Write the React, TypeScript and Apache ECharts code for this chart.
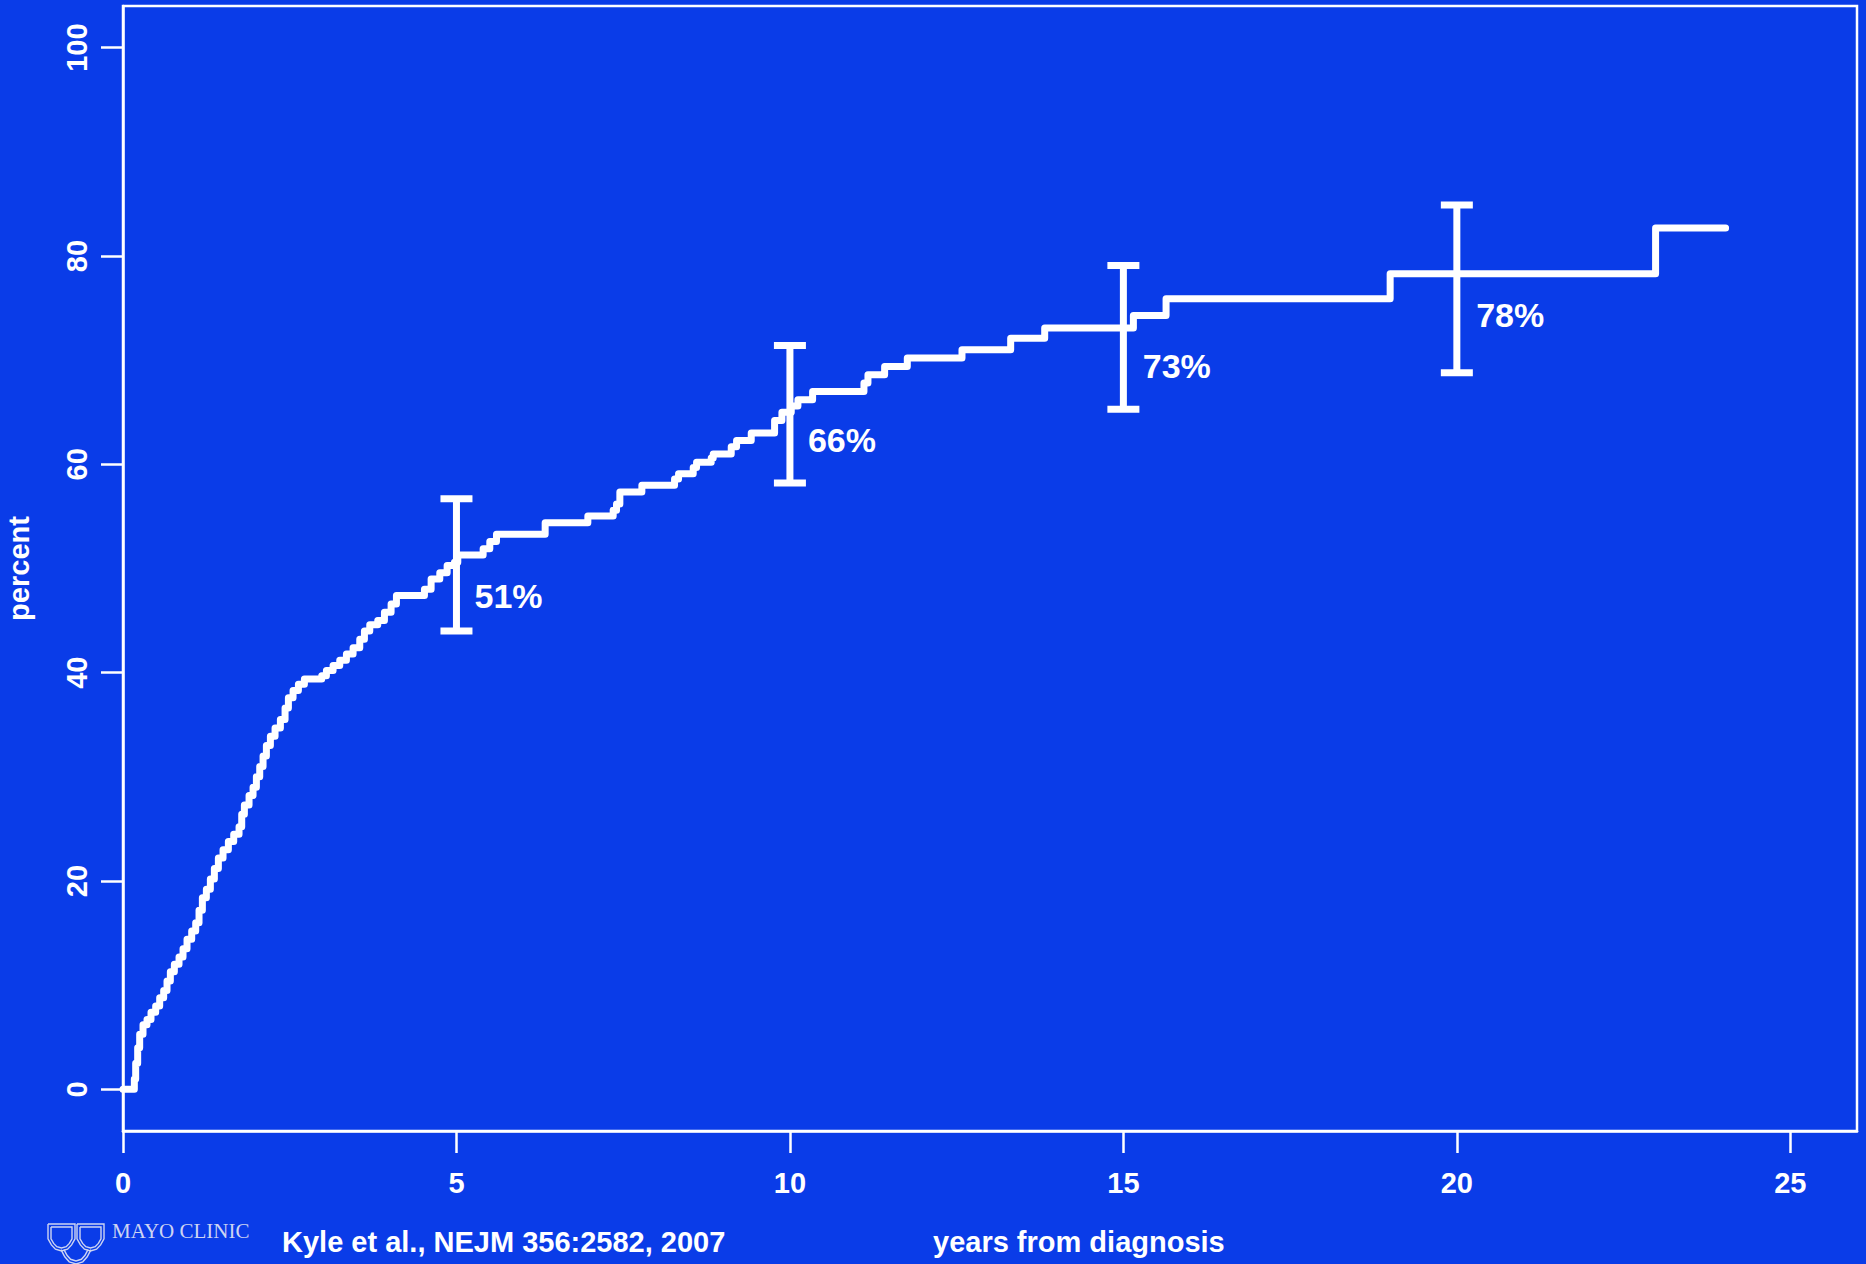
import React, { useEffect, useRef } from "react";
import * as echarts from "echarts";

// Cumulative probability of progression (percent) vs. years from diagnosis
const years = [
  0, 0.17, 0.19, 0.22, 0.25, 0.3, 0.36, 0.42, 0.49, 0.55, 0.61, 0.66, 0.71, 0.77, 0.84, 0.9, 0.96,
  1.03, 1.09, 1.14, 1.19, 1.25, 1.31, 1.37, 1.43, 1.5, 1.58, 1.66, 1.74, 1.78, 1.82, 1.89, 1.95,
  2.0, 2.05, 2.1, 2.15, 2.21, 2.28, 2.36, 2.43, 2.48, 2.55, 2.63, 2.72, 2.98, 3.05, 3.15, 3.25,
  3.35, 3.45, 3.55, 3.62, 3.7, 3.82, 3.92, 4.02, 4.1, 4.52, 4.62, 4.75, 4.86, 4.97, 5.02, 5.4,
  5.5, 5.6, 6.33, 6.97, 7.35, 7.4, 7.45, 7.78, 8.27, 8.33, 8.55, 8.6, 8.82, 8.85, 9.12, 9.2,
  9.42, 9.77, 9.88, 10.02, 10.12, 10.34, 11.11, 11.17, 11.42, 11.76, 12.58, 13.31, 13.82, 15.15,
  15.64, 19.0, 22.98, 24.03,
];
const cumulativePct = [
  0, 1.0, 2.5, 4.0, 5.3, 6.2, 6.7, 7.4, 8.0, 8.8, 9.5, 10.4, 11.3, 12.0, 12.7, 13.5, 14.4,
  15.2, 16.0, 17.2, 18.4, 19.2, 20.2, 21.2, 22.2, 23.0, 23.8, 24.5, 25.2, 26.4, 27.3, 28.2, 29.0,
  30.0, 31.0, 32.0, 33.0, 33.9, 34.7, 35.5, 36.6, 37.6, 38.3, 38.9, 39.4, 39.7, 40.2, 40.7, 41.2,
  41.8, 42.4, 43.2, 44.0, 44.6, 45.0, 45.8, 46.6, 47.4, 48.0, 49.0, 49.6, 50.3, 50.6, 51.3, 51.9,
  52.6, 53.3, 54.4, 55.05, 55.6, 56.2, 57.35, 58.0, 58.6, 59.1, 59.7, 60.2, 60.6, 61.0, 61.7, 62.3,
  63.0, 64.2, 65.0, 65.6, 66.2, 67.0, 67.8, 68.6, 69.4, 70.2, 71.0, 72.1, 73.1, 74.3,
  75.9, 78.3, 82.7, 82.7,
];

// Confidence intervals at 5, 10, 15, 20 years
const ciYears = [5, 10, 15, 20];
const ciLow = [44.0, 58.2, 65.3, 68.8];
const ciHigh = [56.7, 71.4, 79.1, 84.9];
const estimateLabels = ["51%", "66%", "73%", "78%"];
const labelYears = [5.27, 10.27, 15.29, 20.29];
const labelPct = [47.4, 62.3, 69.4, 74.3];

const xTicks = [0, 5, 10, 15, 20, 25];
const yTicks = [0, 20, 40, 60, 80, 100];

const xAxisTitle = "years from diagnosis";
const yAxisTitle = "percent";
const citation = "Kyle et al., NEJM 356:2582, 2007";
const logoText = "MAYO CLINIC";

const FONT = '"Liberation Sans", Arial, Helvetica, sans-serif';
const BG = "#0a3ce8";
const LOGO = "#cdd4f2";

function shield(x0: number, y0: number, w: number, h: number, inset: number) {
  const x1 = x0 + inset;
  const x2 = x0 + w - inset;
  const top = y0 + inset;
  const side = y0 + h * 0.55;
  const mid = (x0 + x0 + w) / 2;
  const bottom = y0 + h - inset;
  return [
    [x1, top], [x2, top], [x2, side],
    [x2 - (x2 - mid) * 0.25, side + (bottom - side) * 0.5],
    [mid + (x2 - mid) * 0.45, side + (bottom - side) * 0.85],
    [mid, bottom],
    [mid - (mid - x1) * 0.45, side + (bottom - side) * 0.85],
    [x1 + (mid - x1) * 0.25, side + (bottom - side) * 0.5],
    [x1, side], [x1, top],
  ];
}

export default function App() {
  const ref = useRef<HTMLDivElement>(null);

  useEffect(() => {
    if (!ref.current) return;
    const chart = echarts.init(ref.current, undefined, { renderer: "svg" });

    const lineData = years.map((t, i) => [t, cumulativePct[i]]);
    const ciData = ciYears.map((t, i) => [t, ciLow[i], ciHigh[i]]);
    const labelData = labelYears.map((t, i) => [t, labelPct[i], estimateLabels[i]]);

    const logoStyle = { stroke: LOGO, fill: "none", lineWidth: 1.4 };
    const lowerShield = shield(61, 1232, 30, 32, 0).slice(2, 9);
    const lowerShieldInner = shield(61, 1232, 30, 32, 3).slice(2, 9);

    chart.setOption({
      animation: false,
      backgroundColor: BG,
      grid: {
        left: 123,
        top: 6,
        width: 1734,
        height: 1125,
        containLabel: false,
        outerBoundsMode: "none",
        show: true,
        borderColor: "#ffffff",
        borderWidth: 2.5,
        backgroundColor: "transparent",
      },
      xAxis: {
        type: "value",
        min: 0,
        max: 26,
        axisLine: { show: true, onZero: false, lineStyle: { color: "#ffffff", width: 2.5 } },
        axisTick: {
          show: true,
          length: 22,
          customValues: xTicks,
          lineStyle: { color: "#ffffff", width: 2.5 },
        },
        axisLabel: {
          customValues: xTicks,
          margin: 37,
          color: "#ffffff",
          fontSize: 29,
          fontWeight: "bold",
          fontFamily: FONT,
        },
        splitLine: { show: false },
      },
      yAxis: {
        type: "value",
        min: -4,
        max: 104,
        name: yAxisTitle,
        nameLocation: "middle",
        nameRotate: 90,
        nameGap: 90,
        nameTextStyle: { color: "#ffffff", fontSize: 29, fontWeight: "bold", fontFamily: FONT },
        axisLine: { show: true, onZero: false, lineStyle: { color: "#ffffff", width: 2.5 } },
        axisTick: {
          show: true,
          length: 22,
          customValues: yTicks,
          lineStyle: { color: "#ffffff", width: 2.5 },
        },
        axisLabel: {
          customValues: yTicks,
          rotate: 90,
          margin: 32,
          color: "#ffffff",
          fontSize: 29,
          fontWeight: "bold",
          fontFamily: FONT,
        },
        splitLine: { show: false },
      },
      series: [
        {
          type: "line",
          data: lineData,
          step: "end",
          showSymbol: false,
          lineStyle: { color: "#ffffff", width: 7, cap: "round", join: "round" },
          z: 3,
        },
        {
          type: "custom",
          data: ciData,
          z: 4,
          renderItem: (_params: any, api: any) => {
            const x = api.value(0);
            const pLo = api.coord([x, api.value(1)]);
            const pHi = api.coord([x, api.value(2)]);
            const half = 16;
            const style = { stroke: "#ffffff", lineWidth: 7 };
            return {
              type: "group",
              children: [
                { type: "line", shape: { x1: pLo[0], y1: pLo[1], x2: pHi[0], y2: pHi[1] }, style },
                { type: "line", shape: { x1: pLo[0] - half, y1: pLo[1], x2: pLo[0] + half, y2: pLo[1] }, style },
                { type: "line", shape: { x1: pHi[0] - half, y1: pHi[1], x2: pHi[0] + half, y2: pHi[1] }, style },
              ],
            };
          },
        },
        {
          type: "scatter",
          data: labelData,
          symbolSize: 0,
          itemStyle: { opacity: 1 },
          z: 5,
          label: {
            show: true,
            position: [0, 0],
            align: "left",
            verticalAlign: "middle",
            formatter: (p: any) => p.data[2],
            color: "#ffffff",
            opacity: 1,
            fontSize: 34,
            fontWeight: "bold",
            fontFamily: FONT,
          },
        },
      ],
      graphic: [
        {
          type: "text",
          x: 282,
          y: 1242,
          style: {
            text: citation,
            fill: "#ffffff",
            fontSize: 29,
            fontWeight: "bold",
            fontFamily: FONT,
            verticalAlign: "middle",
            textVerticalAlign: "middle",
          },
        },
        {
          type: "text",
          x: 933,
          y: 1242,
          style: {
            text: xAxisTitle,
            fill: "#ffffff",
            fontSize: 29,
            fontWeight: "bold",
            fontFamily: FONT,
            verticalAlign: "middle",
            textVerticalAlign: "middle",
          },
        },
        {
          type: "text",
          x: 112,
          y: 1231,
          style: {
            text: logoText,
            fill: LOGO,
            fontSize: 21,
            fontFamily: '"Liberation Serif", "DejaVu Serif", serif',
            letterSpacing: 1.2,
            verticalAlign: "middle",
            textVerticalAlign: "middle",
          },
        },
        { type: "polyline", shape: { points: lowerShield }, style: logoStyle },
        { type: "polyline", shape: { points: lowerShieldInner }, style: logoStyle },
        { type: "polyline", shape: { points: shield(48, 1224, 27, 27, 0) }, style: logoStyle },
        { type: "polyline", shape: { points: shield(48, 1224, 27, 27, 3) }, style: logoStyle },
        { type: "polyline", shape: { points: shield(77, 1224, 27, 27, 0) }, style: logoStyle },
        { type: "polyline", shape: { points: shield(77, 1224, 27, 27, 3) }, style: logoStyle },
      ],
    });

    return () => chart.dispose();
  }, []);

  return (
    <div
      ref={ref}
      style={{ position: "fixed", left: 0, top: 0, width: 1866, height: 1264 }}
    />
  );
}
